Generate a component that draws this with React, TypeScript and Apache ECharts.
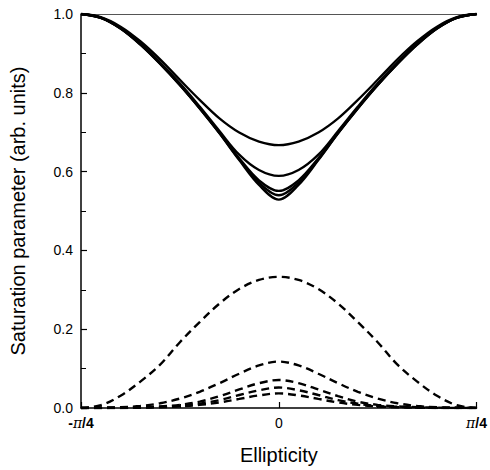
import React, { useEffect, useRef } from "react";
import * as echarts from "echarts";

// Ellipticity in units of pi/4
const ellipticity = [-1, -0.9, -0.8, -0.7, -0.6, -0.5, -0.4, -0.3, -0.2, -0.1, 0, 0.1, 0.2, 0.3, 0.4, 0.5, 0.6, 0.7, 0.8, 0.9, 1];

const solid1 = [1.0, 0.992, 0.968, 0.931, 0.885, 0.833, 0.782, 0.735, 0.699, 0.676, 0.667, 0.676, 0.699, 0.735, 0.782, 0.833, 0.885, 0.931, 0.968, 0.992, 1.0];
const solid2 = [1.0, 0.991, 0.965, 0.926, 0.877, 0.824, 0.765, 0.703, 0.643, 0.604, 0.589, 0.604, 0.643, 0.703, 0.765, 0.824, 0.877, 0.926, 0.965, 0.991, 1.0];
const solid3 = [1.0, 0.991, 0.964, 0.924, 0.875, 0.821, 0.762, 0.699, 0.634, 0.578, 0.551, 0.578, 0.634, 0.699, 0.762, 0.821, 0.875, 0.924, 0.964, 0.991, 1.0];
const solid4 = [1.0, 0.990, 0.963, 0.923, 0.874, 0.820, 0.761, 0.698, 0.631, 0.572, 0.540, 0.572, 0.631, 0.698, 0.761, 0.820, 0.874, 0.923, 0.963, 0.990, 1.0];
const solid5 = [1.0, 0.990, 0.963, 0.922, 0.873, 0.819, 0.760, 0.697, 0.629, 0.566, 0.529, 0.566, 0.629, 0.697, 0.760, 0.819, 0.873, 0.922, 0.963, 0.990, 1.0];

const dashed1 = [0, 0.007, 0.031, 0.067, 0.110, 0.167, 0.218, 0.265, 0.302, 0.325, 0.333, 0.325, 0.302, 0.265, 0.218, 0.167, 0.110, 0.067, 0.031, 0.007, 0];
const dashed2 = [0, 0.001, 0.002, 0.005, 0.012, 0.024, 0.041, 0.063, 0.087, 0.108, 0.118, 0.108, 0.087, 0.063, 0.041, 0.024, 0.012, 0.005, 0.002, 0.001, 0];
const dashed3 = [0, 0, 0.001, 0.002, 0.004, 0.008, 0.016, 0.030, 0.047, 0.063, 0.071, 0.063, 0.047, 0.030, 0.016, 0.008, 0.004, 0.002, 0.001, 0, 0];
const dashed4 = [0, 0, 0, 0.001, 0.003, 0.005, 0.011, 0.020, 0.033, 0.045, 0.052, 0.045, 0.033, 0.020, 0.011, 0.005, 0.003, 0.001, 0, 0, 0];
const dashed5 = [0, 0, 0, 0.001, 0.002, 0.004, 0.008, 0.014, 0.023, 0.032, 0.037, 0.032, 0.023, 0.014, 0.008, 0.004, 0.002, 0.001, 0, 0, 0];

const xTickLabels: Record<string, string> = { "-1": "{m|-}{pi|π}{b|/4}", "0": "{z|0}", "1": "{pi|π}{b|/4}" };
const yTickLabels = ["0.0", "0.2", "0.4", "0.6", "0.8", "1.0"];

const FONT = "'Liberation Sans', Arial, Helvetica, sans-serif";

export default function App() {
  const ref = useRef<HTMLDivElement>(null);
  useEffect(() => {
    if (!ref.current) return;
    const chart = echarts.init(ref.current, undefined, { renderer: "svg" });
    const mk = (vals: number[], dashed: boolean) => ({
      type: "line",
      data: ellipticity.map((x, i) => [x, vals[i]]),
      showSymbol: false,
      smooth: 0.35,
      lineStyle: {
        color: "#000",
        width: dashed ? 2.4 : 2.3,
        type: dashed ? [8, 5] : "solid",
      },
      z: 3,
    });
    chart.setOption({
      animation: false,
      backgroundColor: "#fff",
      textStyle: { fontFamily: FONT },
      grid: { left: 81, right: 9, top: 14, bottom: 62, containLabel: false },
      xAxis: [
        {
          type: "value",
          min: -1,
          max: 1,
          interval: 1,
          name: "Ellipticity",
          nameLocation: "middle",
          nameGap: 37,
          nameTextStyle: { fontSize: 20, color: "#000", fontFamily: FONT },
          axisLine: { onZero: false, lineStyle: { color: "#000", width: 1.5 } },
          axisTick: { inside: true, length: 6, lineStyle: { color: "#000", width: 1.2 } },
          minorTick: { show: true, splitNumber: 2, length: 4, lineStyle: { color: "#000", width: 1 } },
          splitLine: { show: false },
          axisLabel: {
            margin: 8,
            color: "#000",
            formatter: (v: number) => xTickLabels[String(v)] ?? "",
            rich: {
              m: { fontSize: 14, fontWeight: "bold", color: "#000", fontFamily: FONT },
              pi: { fontSize: 14, fontStyle: "italic", fontFamily: "'DejaVu Serif', serif", color: "#000" },
              b: { fontSize: 14, fontWeight: "bold", color: "#000", fontFamily: FONT },
              z: { fontSize: 14, color: "#000", fontFamily: FONT },
            },
          },
        },
        {
          type: "value",
          position: "top",
          min: -1,
          max: 1,
          axisLine: { show: true, onZero: false, lineStyle: { color: "#555", width: 1.2 } },
          axisTick: { show: false },
          axisLabel: { show: false },
          splitLine: { show: false },
        },
      ],
      yAxis: {
        type: "value",
        min: 0,
        max: 1,
        interval: 0.2,
        name: "Saturation parameter (arb. units)",
        nameLocation: "middle",
        nameGap: 53,
        nameTextStyle: { fontSize: 20, color: "#000", fontFamily: FONT },
        axisLine: { show: true, onZero: false, lineStyle: { color: "#000", width: 1.5 } },
        axisTick: { show: true, inside: true, length: 6, lineStyle: { color: "#000", width: 1.2 } },
        minorTick: { show: true, splitNumber: 2, length: 5, lineStyle: { color: "#000", width: 1 } },
        splitLine: { show: false },
        axisLabel: {
          margin: 8,
          fontSize: 14,
          color: "#000",
          fontFamily: FONT,
          formatter: (v: number) => yTickLabels[Math.round(v * 5)] ?? "",
        },
      },
      series: [
        mk(solid1, false),
        mk(solid2, false),
        mk(solid3, false),
        mk(solid4, false),
        mk(solid5, false),
        mk(dashed1, true),
        mk(dashed2, true),
        mk(dashed3, true),
        mk(dashed4, true),
        mk(dashed5, true),
      ],
    });
    return () => chart.dispose();
  }, []);
  return <div ref={ref} style={{ position: "fixed", left: 0, top: 0, width: 490, height: 470 }} />;
}
